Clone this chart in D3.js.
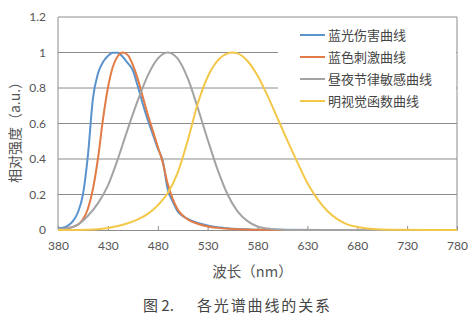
<!DOCTYPE html>
<html>
<head>
<meta charset="utf-8">
<script src="https://cdn.jsdelivr.net/npm/d3@7"></script>
<style>
  html, body { margin: 0; padding: 0; background: #fff; }
  svg { display: block; }
</style>
</head>
<body>
<div id="chart"></div>
<script>
// DATA
////////////////////////////
var xTicks = [380, 430, 480, 530, 580, 630, 680, 730, 780];
var yTicks = [0, 0.2, 0.4, 0.6, 0.8, 1, 1.2];

// blue light hazard B(λ)
var hazardNm  = [380,385,390,395,400,405,410,415,420,425,430,435,440,445,450,455,460,465,470,475,480,485,490,495,500,505,510,515,520,525,530,535,540,545,550,560,570,580,600,650,700,780];
var hazardVal = [0.01,0.013,0.025,0.05,0.1,0.2,0.42,0.74,0.88,0.945,0.98,0.998,0.998,0.975,0.94,0.9,0.81,0.71,0.62,0.54,0.46,0.39,0.23,0.16,0.105,0.079,0.063,0.05,0.04,0.032,0.025,0.02,0.016,0.013,0.01,0.006,0.004,0.002,0.001,0,0,0];

// blue colour stimulation
var stimNm  = [380,390,400,405,410,415,420,425,430,435,440,445,450,455,460,465,470,475,480,485,490,495,500,510,520,530,540,550,560,580,600,650,700,780];
var stimVal = [0.003,0.01,0.03,0.06,0.12,0.23,0.4,0.62,0.8,0.92,0.98,1,0.985,0.93,0.85,0.75,0.65,0.56,0.47,0.38,0.26,0.175,0.115,0.06,0.035,0.02,0.012,0.007,0.004,0.001,0,0,0,0];

// circadian (melanopic) sensitivity
var circNm  = [380,390,400,410,420,430,440,450,460,470,480,490,500,510,520,530,540,550,560,570,580,590,600,620,650,700,780];
var circVal = [0.005,0.01,0.03,0.08,0.15,0.25,0.4,0.57,0.73,0.87,0.965,1,0.965,0.855,0.69,0.51,0.34,0.2,0.105,0.05,0.02,0.008,0.003,0,0,0,0];

// photopic V(λ)
var photNm  = [380,400,410,420,430,440,450,460,470,480,490,500,510,520,530,540,550,555,560,570,580,590,600,610,620,630,640,650,660,670,680,690,700,720,750,780];
var photVal = [0,0.0004,0.0012,0.004,0.0116,0.023,0.038,0.06,0.091,0.139,0.208,0.323,0.503,0.71,0.862,0.954,0.995,1,0.995,0.952,0.87,0.757,0.631,0.503,0.381,0.265,0.175,0.107,0.061,0.032,0.017,0.0082,0.0041,0.001,0.0001,0];

var seriesNames  = ['蓝光伤害曲线', '蓝色刺激曲线', '昼夜节律敏感曲线', '明视觉函数曲线'];
var seriesColors = ['#5b93cc', '#e27b45', '#a3a3a3', '#f3c747'];

// SETUP
////////////////////////////
var width = 474,
    height = 327;
var margin = {left: 58, right: 17, top: 17, bottom: 97};

var svg = d3.select('#chart').append('svg')
    .attr('width', width)
    .attr('height', height);

var x = d3.scaleLinear().domain([380, 780]).range([margin.left, width - margin.right]);
var y = d3.scaleLinear().domain([0, 1.2]).range([height - margin.bottom, margin.top]);

var font = 'Lato, "Liberation Sans", sans-serif';
var cjk  = '"Noto Sans CJK SC", sans-serif';

// gridlines
svg.append('g')
  .selectAll('line')
  .data(yTicks.slice(1))
  .enter().append('line')
    .attr('x1', x(380)).attr('x2', x(780))
    .attr('y1', function(d) { return y(d); })
    .attr('y2', function(d) { return y(d); })
    .attr('stroke', '#8c8c8c')
    .attr('stroke-width', 1);

// plot box (left / right)
svg.append('line')
    .attr('x1', x(380)).attr('x2', x(380)).attr('y1', y(1.2)).attr('y2', y(0))
    .attr('stroke', '#8c8c8c');
svg.append('line')
    .attr('x1', x(780)).attr('x2', x(780)).attr('y1', y(1.2)).attr('y2', y(0))
    .attr('stroke', '#8c8c8c');

// x axis, ticks pointing up
var xAxis = d3.axisBottom(x).tickValues(xTicks).tickSizeInner(-4).tickSizeOuter(0).tickPadding(11);
var gx = svg.append('g')
    .attr('transform', 'translate(0,' + y(0) + ')')
    .call(xAxis);
gx.select('.domain').attr('stroke', '#8c8c8c');
gx.selectAll('.tick line').attr('stroke', '#8c8c8c');
gx.selectAll('text')
    .style('font-family', font).style('font-size', '12px').attr('fill', '#555');

// y axis labels only
var yAxis = d3.axisLeft(y).tickValues(yTicks).tickSize(0).tickPadding(12)
    .tickFormat(function(d) { return d === 0 || d === 1 ? d3.format('d')(d) : d3.format('.1f')(d); });
var gy = svg.append('g')
    .attr('transform', 'translate(' + x(380) + ',0)')
    .call(yAxis);
gy.select('.domain').remove();
gy.selectAll('text')
    .style('font-family', font).style('font-size', '12px').attr('fill', '#555');

// curves
var series = [
  {nm: hazardNm, v: hazardVal},
  {nm: stimNm,   v: stimVal},
  {nm: circNm,   v: circVal},
  {nm: photNm,   v: photVal}
];

var line = d3.line()
    .x(function(d) { return x(d[0]); })
    .y(function(d) { return y(d[1]); })
    .curve(d3.curveMonotoneX);

series.forEach(function(s, i) {
  var pts = s.nm.map(function(n, k) { return [n, s.v[k]]; });
  svg.append('path')
      .attr('d', line(pts))
      .attr('fill', 'none')
      .attr('stroke', seriesColors[i])
      .attr('stroke-width', 2)
      .attr('stroke-linejoin', 'round');
});

// legend (white box over the grid)
var legend = svg.append('g');
legend.append('rect')
    .attr('x', 278).attr('y', 21)
    .attr('width', x(780) - 278 - 1).attr('height', 97)
    .attr('fill', '#fff');

seriesNames.forEach(function(name, i) {
  var ly = 35 + i * 22;
  legend.append('line')
      .attr('x1', 300).attr('x2', 325)
      .attr('y1', ly).attr('y2', ly)
      .attr('stroke', seriesColors[i])
      .attr('stroke-width', 2);
  legend.append('text')
      .attr('x', 328).attr('y', ly)
      .attr('dy', '0.35em')
      .style('font-family', cjk).style('font-size', '13px')
      .attr('fill', '#444')
      .text(name);
});

// axis titles
svg.append('text')
    .attr('transform', 'translate(15,' + 129 + ') rotate(-90)')
    .attr('text-anchor', 'middle')
    .attr('dy', '0.35em')
    .style('font-family', cjk).style('font-size', '14px')
    .attr('fill', '#555')
    .text('相对强度（a.u.）');

svg.append('text')
    .attr('x', (x(380) + x(780)) / 2 - 5).attr('y', 272)
    .attr('text-anchor', 'middle')
    .attr('dy', '0.35em')
    .style('font-family', cjk).style('font-size', '14.5px')
    .attr('fill', '#555')
    .text('波长（nm）');

// caption
svg.append('text')
    .attr('x', 143).attr('y', 306)
    .attr('dy', '0.35em')
    .style('font-family', cjk).style('font-size', '15px')
    .attr('fill', '#444')
    .text('图 2.');
svg.append('text')
    .attr('x', 197).attr('y', 306)
    .attr('dy', '0.35em')
    .attr('textLength', 133)
    .style('font-family', cjk).style('font-size', '15px')
    .attr('fill', '#444')
    .text('各光谱曲线的关系');
</script>
</body>
</html>
